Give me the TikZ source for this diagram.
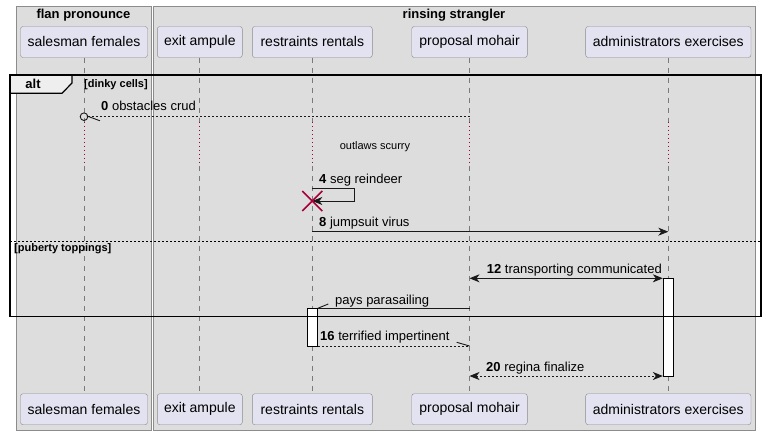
\documentclass[tikz,border=0pt]{standalone}
\usepackage{fontspec}
\setmainfont{Liberation Sans}
\usetikzlibrary{arrows.meta}
\definecolor{boxbg}{HTML}{DDDDDD}
\definecolor{boxline}{HTML}{8C8C8C}
\definecolor{partfill}{HTML}{E2E2F0}
\definecolor{partline}{HTML}{8C8C8C}
\definecolor{lifecol}{HTML}{7A7A7A}
\definecolor{delaycol}{HTML}{A80036}
\definecolor{tabfill}{HTML}{EEEEEE}
\begin{document}
\begin{tikzpicture}[x=1pt,y=-1pt,
  part/.style={draw=partline, fill=partfill, rounded corners=2.5pt, minimum height=31pt, inner sep=0pt, font=\fontsize{14}{16}\selectfont},
  grp/.style={draw=boxline, fill=boxbg, line width=0.8pt},
  grptitle/.style={font=\fontsize{13}{15}\selectfont\bfseries, anchor=base, inner sep=0pt},
  life/.style={draw=lifecol, line width=0.7pt, dash pattern=on 5pt off 5pt},
  delayline/.style={draw=delaycol, line width=0.8pt, dash pattern=on 1pt off 3pt},
  msg/.style={draw=black!90, line width=0.9pt},
  dmsg/.style={msg, dash pattern=on 2pt off 2pt},
  head/.style={-{Stealth[length=10pt,width=8pt,inset=3pt]}},
  both/.style={{Stealth[length=10pt,width=8pt,inset=3pt]}-{Stealth[length=10pt,width=8pt,inset=3pt]}},
  lbl/.style={anchor=base west, inner sep=0pt, font=\fontsize{13}{15}\selectfont},
  act/.style={draw=black, fill=white, line width=0.9pt},
  guard/.style={anchor=base west, inner sep=0pt, font=\fontsize{11}{13}\selectfont\bfseries},
]
\useasboundingbox (0,0) rectangle (767,435);
\fill[white] (0,0) rectangle (767,435);
% groups
\draw[grp] (16,6) rectangle (151,430);
\draw[grp] (153,6) rectangle (755,430);
\node[grptitle] (t1) at (83.5,18.3) {flan pronounce};
\node[grptitle] (t2) at (454,18.3) {rinsing strangler};
% participants
\node[part, minimum width=127pt] (sf) at (84,42) {salesman females};
\node[part, minimum width=85pt] (ea) at (199.8,42) {exit ampule};
\node[part, minimum width=120pt] (rr) at (312.3,42) {restraints rentals};
\node[part, minimum width=115.6pt] (pm) at (469.5,42) {proposal mohair};
\node[part, minimum width=165.3pt] (ae) at (668.3,42) {administrators exercises};
\node[part, minimum width=127pt] (sfb) at (84,409.2) {salesman females};
\node[part, minimum width=85pt] (eab) at (199.8,409.2) {exit ampule};
\node[part, minimum width=120pt] (rrb) at (312.3,409.2) {restraints rentals};
\node[part, minimum width=115.6pt] (pmb) at (469.5,409.2) {proposal mohair};
\node[part, minimum width=165.3pt] (aeb) at (668.3,409.2) {administrators exercises};
% lifelines
\coordinate (dtop) at (0,122);
\coordinate (dbot) at (0,166);
\foreach \p in {sf,ea,rr,pm,ae}{
  \draw[life] (\p.south) -- (\p.south |- dtop);
  \draw[delayline] (\p.south |- dtop) -- (\p.south |- dbot);
  \draw[life] (\p.south |- dbot) -- (\p b.north);
}
% message 0
\coordinate (y0) at (0,116.7);
\coordinate (c0) at (84,116.7);
\coordinate (c0r) at (87.8,116.7);
\coordinate (b0) at (100,120.8);
\draw[dmsg] (pm.south |- y0) -- (c0r);
\draw[black!90, line width=0.9pt] (c0) circle (3.8pt);
\draw[msg] (86.8,115.9) -- (b0);
\node[lbl] (l0) at (101,111) {\textbf{0} obstacles crud};
% delay text
\node[anchor=base, inner sep=0pt, font=\fontsize{11}{13}\selectfont] (dl) at (375,149.3) {outlaws scurry};
% message 4 self
\coordinate (y4) at (0,188.3);
\coordinate (y4b) at (0,201);
\coordinate (loopR) at (354.3,188.3);
\coordinate (loopRb) at (354.3,201);
\draw[msg,head] (rr.south |- y4) -- (loopR) -- (loopRb) -- (rr.south |- y4b);
\node[lbl] (l4) at (319,183.3) {\textbf{4} seg reindeer};
\coordinate (X) at (312.3,201);
\draw[delaycol, line width=1.6pt] (X) ++(-10,-10) -- ++(20,20);
\draw[delaycol, line width=1.6pt] (X) ++(-10,10) -- ++(20,-20);
% message 8
\coordinate (y8) at (0,231.7);
\draw[msg,head] (rr.south |- y8) -- (ae.south |- y8);
\node[lbl] (l8) at (319,226.7) {\textbf{8} jumpsuit virus};
% activations
\node[act, minimum width=10pt, minimum height=97.7pt, inner sep=0pt, anchor=north] (aact) at (668.3,278.3) {};
\node[act, minimum width=10pt, minimum height=37.7pt, inner sep=0pt, anchor=north] (ract) at (312.3,308.3) {};
% message 12
\coordinate (y12) at (0,278.3);
\draw[msg,both] (pm.south |- y12) -- (aact.west |- y12);
\node[lbl] (l12) at (486.7,273.3) {\textbf{12} transporting communicated};
% pays parasailing
\coordinate (yp) at (0,308.3);
\coordinate (bp) at (328.3,304);
\draw[msg] (pm.south |- yp) -- (ract.east |- yp);
\draw[msg] (ract.east |- yp) -- (bp);
\node[lbl] (lp) at (335,304.3) {pays parasailing};
% message 16
\coordinate (y16) at (0,346);
\coordinate (b16) at (456.7,342.3);
\draw[dmsg] (ract.east |- y16) -- (pm.south |- y16);
\draw[msg] (pm.south |- y16) -- (b16);
\node[lbl] (l16) at (320,340) {\textbf{16} terrified impertinent};
% message 20
\coordinate (y20) at (0,376);
\draw[dmsg,both] (pm.south |- y20) -- (aact.west |- y20);
\node[lbl] (l20) at (486,371) {\textbf{20} regina finalize};
% alt frame
\draw[line width=1.2pt, fill=tabfill] (10,75) -- (72,75) -- (72,83) -- (62,93.3) -- (10,93.3) -- cycle;
\node[anchor=base, inner sep=0pt, font=\fontsize{13}{15}\selectfont\bfseries] (altt) at (33,89) {alt};
\node[guard] (g1) at (84,88) {[dinky cells]};
\draw[line width=0.8pt, dash pattern=on 2pt off 2pt] (10,241) -- (761,241);
\node[guard] (g2) at (14,252) {[puberty toppings]};
\draw[line width=1.5pt] (10,75) rectangle (761,316.7);
\end{tikzpicture}
\end{document}
